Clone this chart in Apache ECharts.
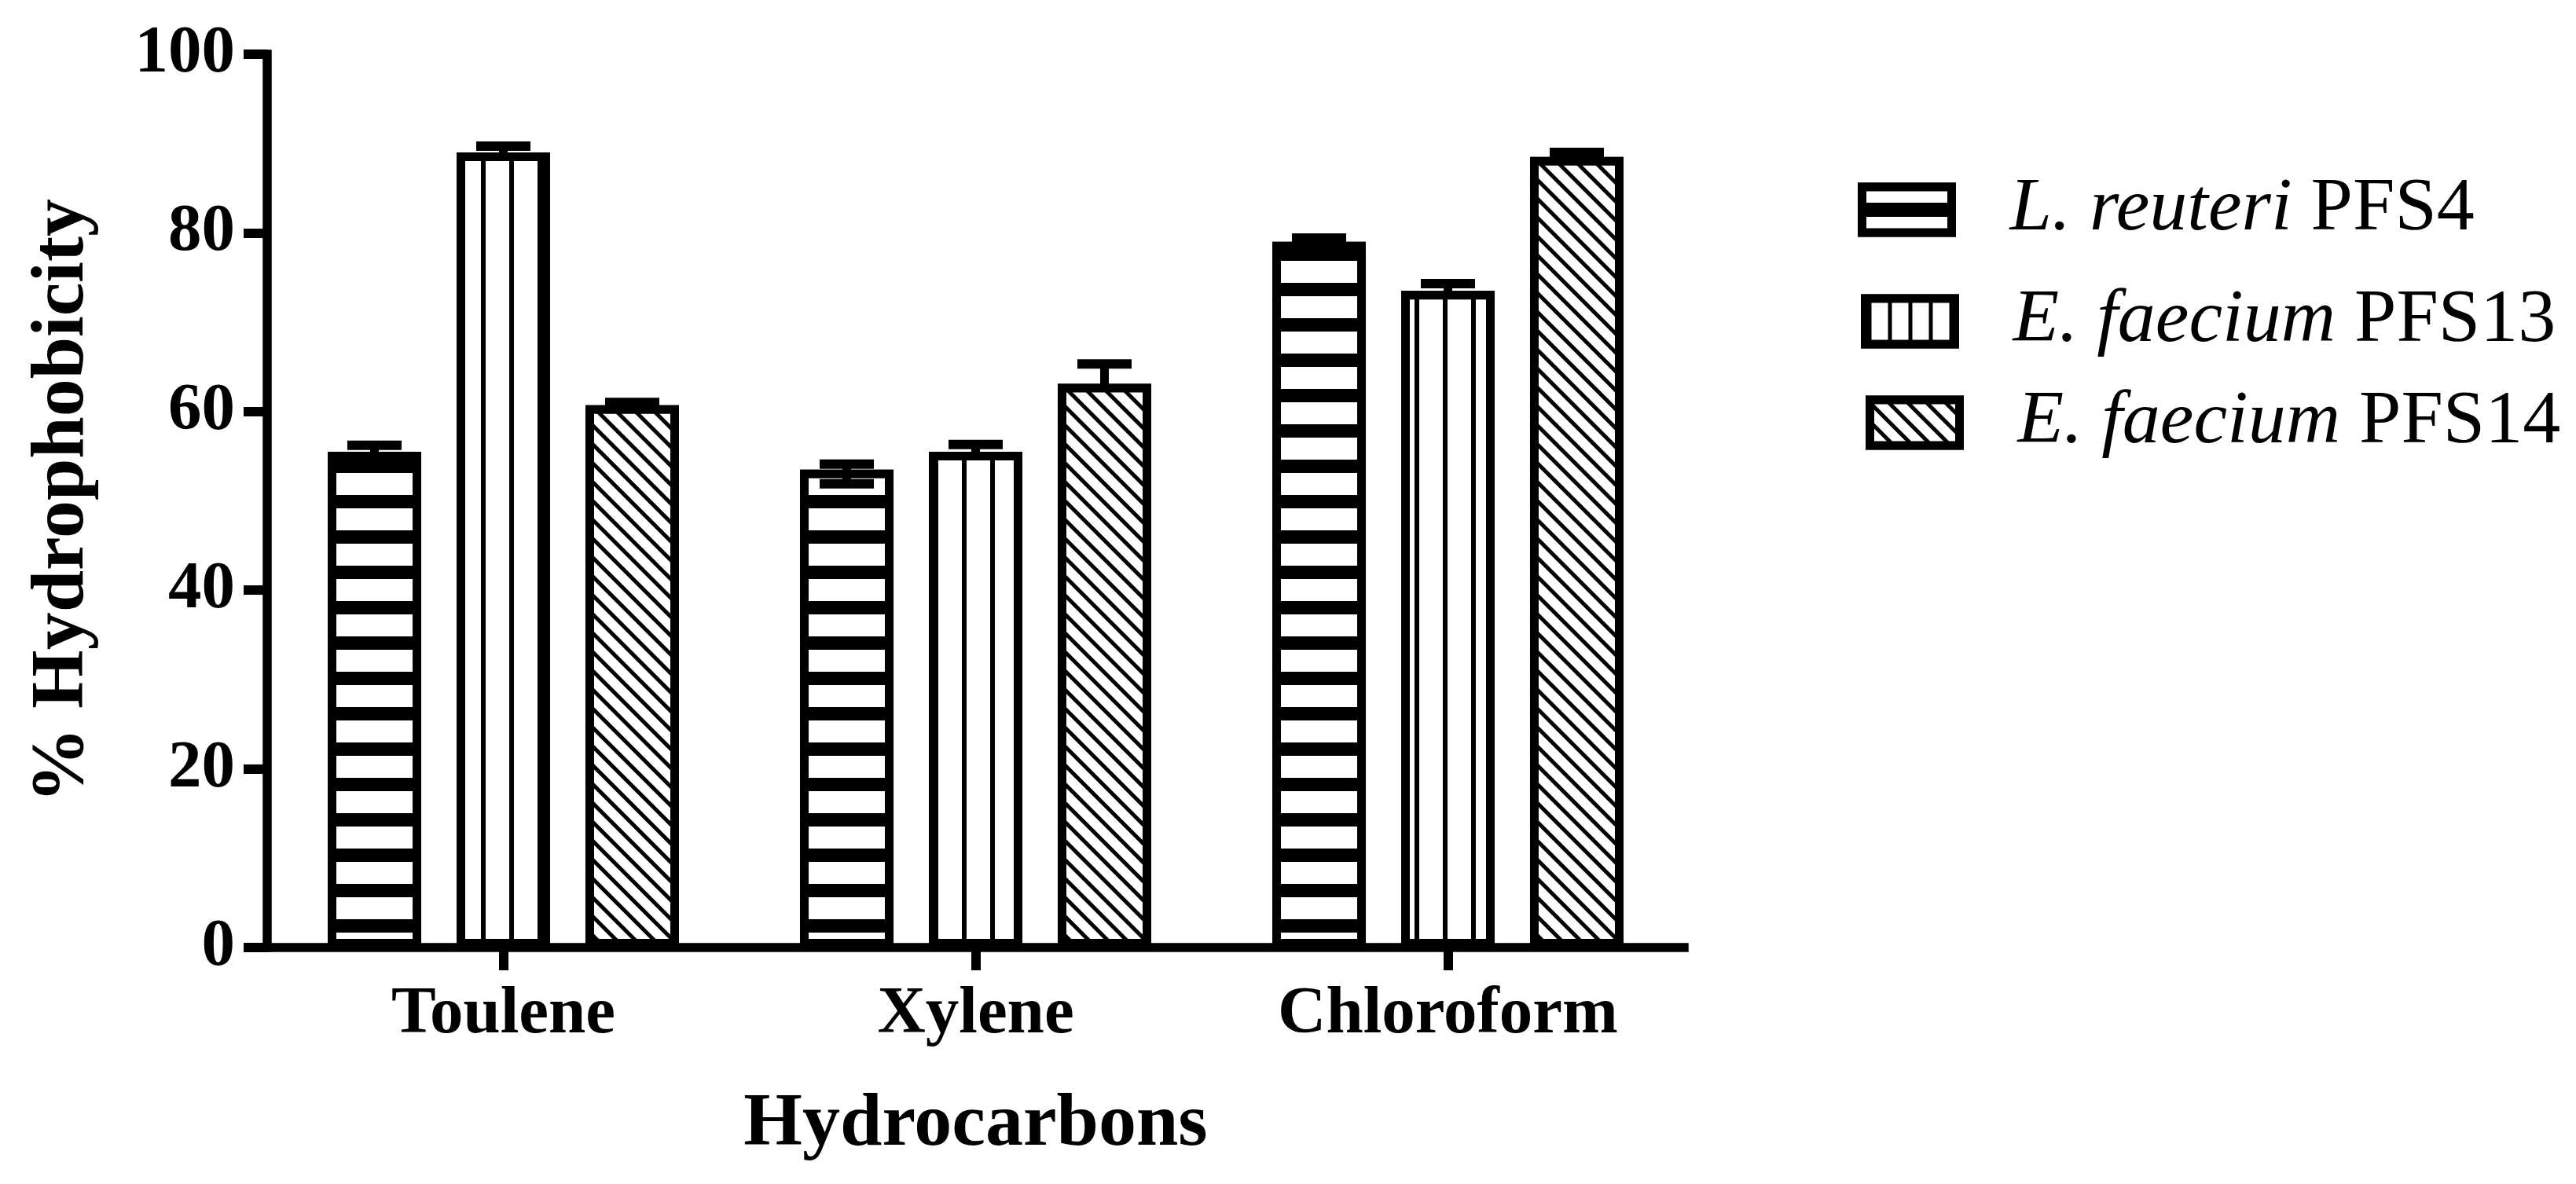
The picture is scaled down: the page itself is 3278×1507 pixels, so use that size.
<!DOCTYPE html>
<html>
<head>
<meta charset="utf-8">
<script src="https://cdn.jsdelivr.net/npm/echarts@6/dist/echarts.min.js"></script>
<style>
html,body{margin:0;padding:0;background:#fff;}
#chart{width:3278px;height:1507px;}
</style>
</head>
<body>
<div id="chart"></div>
<script>
// ---- data ----
const categories = ['Toulene', 'Xylene', 'Chloroform'];
const speciesNames = ['L. reuteri', 'E. faecium', 'E. faecium'];
const strainNames = ['PFS4', 'PFS13', 'PFS14'];
const pfs4Values = [55.5, 53.5, 79.0];
const pfs4Sd = [1.2, 1.1, 0.9];
const pfs13Values = [89.0, 55.5, 73.5];
const pfs13Sd = [1.2, 1.3, 1.3];
const pfs14Values = [60.7, 63.1, 88.5];
const pfs14Sd = [0.8, 2.7, 1.0];
const yTicks = [0, 20, 40, 60, 80, 100];
const xTitle = 'Hydrocarbons';
const yTitle = '% Hydrophobicity';

const seriesNames = speciesNames.map((s, i) => s + ' ' + strainNames[i]);
const allValues = [pfs4Values, pfs13Values, pfs14Values];
const allSd = [pfs4Sd, pfs13Sd, pfs14Sd];

// ---- styling ----
const FONT = "'Liberation Serif', 'Times New Roman', serif";
const BAR_W = 0.198;
const BAR_GAP = 0.378;
const BORDER = 11;
const decals = [
  {symbol: 'rect', symbolSize: 1, color: '#000', backgroundColor: '#fff', dashArrayX: [1, 0], dashArrayY: [17, 28], rotation: 0},
  {symbol: 'rect', symbolSize: 1, color: '#000', backgroundColor: '#fff', dashArrayX: [6, 30], dashArrayY: [1, 0], rotation: 0},
  {symbol: 'rect', symbolSize: 1, color: '#000', backgroundColor: '#fff', dashArrayX: [1, 0], dashArrayY: [5, 12], rotation: Math.PI / 4}
];
const legendDecals = [
  {symbol: 'rect', symbolSize: 1, color: '#000', backgroundColor: '#fff', dashArrayX: [1, 0], dashArrayY: [0, 20, 18, 26], rotation: 0},
  {symbol: 'rect', symbolSize: 1, color: '#000', backgroundColor: '#fff', dashArrayX: [0, 3, 5, 18], dashArrayY: [1, 0], rotation: 0},
  {symbol: 'rect', symbolSize: 1, color: '#000', backgroundColor: '#fff', dashArrayX: [1, 0], dashArrayY: [5, 12], rotation: Math.PI / 4}
];
const showLower = [true, false, false];
const legendPos = [
  {left: 2364, top: 219},
  {left: 2368, top: 361},
  {left: 2374, top: 490}
];

const chart = echarts.init(document.getElementById('chart'), null, {renderer: 'canvas'});

const barSeries = allValues.map((vals, i) => ({
  name: seriesNames[i],
  type: 'bar',
  data: vals,
  barWidth: (BAR_W * 100).toFixed(1) + '%',
  barGap: (BAR_GAP * 100).toFixed(1) + '%',
  silent: true,
  z: 2,
  itemStyle: {color: '#fff', borderColor: '#000', borderWidth: BORDER, decal: decals[i]}
}));

const errSeries = allValues.map((vals, sIdx) => ({
  type: 'custom',
  silent: true,
  z: 10,
  data: categories.map((c, i) => [i, vals[i], allSd[sIdx][i]]),
  encode: {x: 0, y: 1},
  renderItem: function (params, api) {
    const ci = api.value(0), m = api.value(1), sd = api.value(2);
    const band = api.size([1, 0])[0];
    const bw = band * BAR_W;
    const step = bw * (1 + BAR_GAP);
    const p = api.coord([ci, m]);
    const cx = p[0] + (sIdx - 1) * step;
    const yCenter = p[1] + BORDER / 2;
    const dy = api.coord([ci, 0])[1] - api.coord([ci, sd])[1];
    const yTop = yCenter - dy;
    const yBot = yCenter + dy;
    const half = bw * 0.29;
    const st = {stroke: '#000', lineWidth: 11, fill: null};
    const stCap = {stroke: '#000', lineWidth: 12, fill: null};
    const children = [
      {type: 'line', shape: {x1: cx, y1: yCenter, x2: cx, y2: yTop}, style: st},
      {type: 'line', shape: {x1: cx - half, y1: yTop, x2: cx + half, y2: yTop}, style: stCap}
    ];
    if (showLower[sIdx]) {
      children.push({type: 'line', shape: {x1: cx, y1: yCenter, x2: cx, y2: yBot}, style: st});
      children.push({type: 'line', shape: {x1: cx - half, y1: yBot, x2: cx + half, y2: yBot}, style: stCap});
    }
    return {type: 'group', children: children};
  }
}));

const legends = seriesNames.map((n, i) => ({
  data: [{name: n, icon: 'rect'}],
  orient: 'vertical',
  left: legendPos[i].left,
  top: legendPos[i].top,
  padding: 0,
  itemWidth: 114,
  itemHeight: 58,
  selectedMode: false,
  itemStyle: {color: '#fff', borderColor: '#000', borderWidth: BORDER, decal: legendDecals[i]},
  formatter: function () { return '{i|' + speciesNames[i] + '}{n| ' + strainNames[i] + '}'; },
  textStyle: {
    color: '#000',
    fontFamily: FONT,
    fontSize: 96,
    padding: [0, 0, 0, 69],
    rich: {
      i: {fontFamily: FONT, fontStyle: 'italic', fontWeight: 'normal', fontSize: 96, lineHeight: 100, color: '#000'},
      n: {fontFamily: FONT, fontStyle: 'normal', fontWeight: 'normal', fontSize: 96, lineHeight: 100, color: '#000'}
    }
  }
}));

const option = {
  animation: false,
  backgroundColor: '#fff',
  legend: legends,
  grid: {left: 340, right: 1135, top: 69, bottom: 301, containLabel: false, outerBoundsMode: 'none'},
  xAxis: {
    type: 'category',
    data: categories,
    name: xTitle,
    nameLocation: 'middle',
    nameGap: 178,
    nameTextStyle: {fontFamily: FONT, fontWeight: 'bold', fontSize: 96, color: '#000'},
    axisLine: {lineStyle: {color: '#000', width: 11.5, cap: 'square'}},
    axisTick: {show: true, alignWithLabel: true, length: 29, lineStyle: {color: '#000', width: 12}},
    axisLabel: {fontFamily: FONT, fontWeight: 'bold', fontSize: 85, color: '#000', margin: 44},
    splitLine: {show: false}
  },
  yAxis: {
    type: 'value',
    min: 0,
    max: 100,
    interval: 20,
    name: yTitle,
    nameLocation: 'middle',
    nameRotate: 90,
    nameGap: 212,
    nameTextStyle: {fontFamily: FONT, fontWeight: 'bold', fontSize: 96, color: '#000'},
    axisLine: {show: true, lineStyle: {color: '#000', width: 11.5, cap: 'square'}},
    axisTick: {show: true, length: 30, lineStyle: {color: '#000', width: 12}},
    axisLabel: {fontFamily: FONT, fontWeight: 'bold', fontSize: 85, color: '#000', margin: 41,
      formatter: function (v) { return yTicks.indexOf(v) >= 0 ? String(v) : ''; }},
    splitLine: {show: false}
  },
  series: barSeries.concat(errSeries)
};
chart.setOption(option);
</script>
</body>
</html>
